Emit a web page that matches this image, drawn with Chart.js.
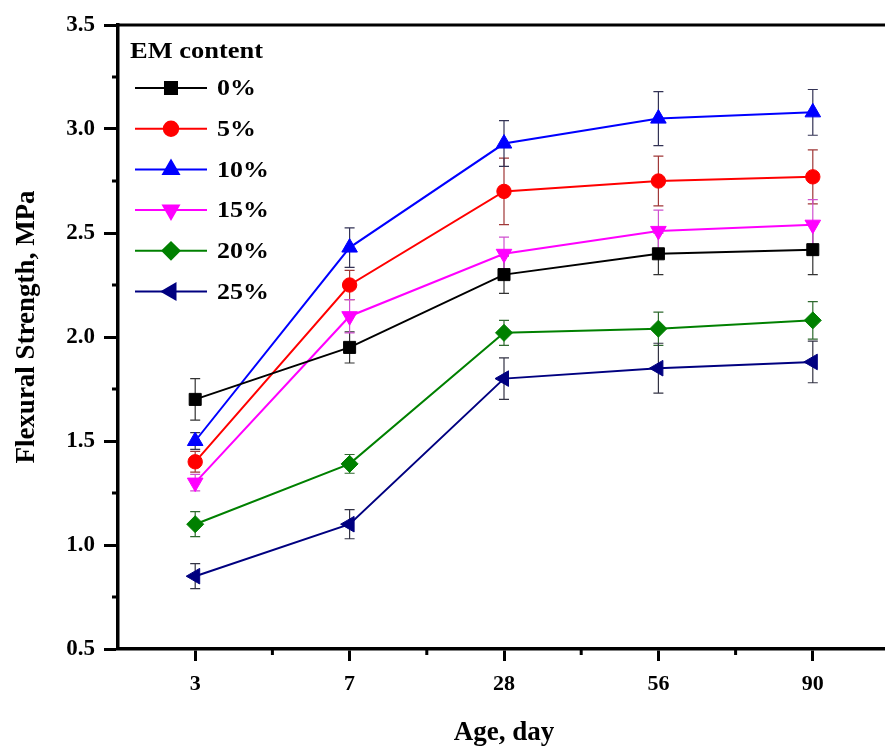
<!DOCTYPE html>
<html>
<head>
<meta charset="utf-8">
<script src="https://cdn.jsdelivr.net/npm/chart.js@4.4.1/dist/chart.umd.min.js"></script>
<style>
  html, body { margin: 0; padding: 0; background: #fff; overflow: hidden; }
  #wrap { width: 900px; height: 749px; position: relative; }
</style>
</head>
<body>
<div id="wrap"><canvas id="chart"></canvas></div>
<script>
// age in days (categories)
const AGES = ["3", "7", "28", "56", "90"];
const Y_TICKS = [0.5, 1.0, 1.5, 2.0, 2.5, 3.0, 3.5];

const LABELS = ["0%", "5%", "10%", "15%", "20%", "25%"];

// flexural strength, MPa
const EM0 = [1.70, 1.95, 2.30, 2.40, 2.42];
const EM5 = [1.40, 2.25, 2.70, 2.75, 2.77];
const EM10 = [1.50, 2.43, 2.93, 3.05, 3.08];
const EM15 = [1.30, 2.10, 2.40, 2.51, 2.54];
const EM20 = [1.10, 1.39, 2.02, 2.04, 2.08];
const EM25 = [0.85, 1.10, 1.80, 1.85, 1.88];

// error bars (+/-)
const ERR0 = [0.10, 0.075, 0.09, 0.10, 0.12];
const ERR5 = [0.05, 0.07, 0.16, 0.12, 0.13];
const ERR10 = [0.04, 0.095, 0.11, 0.13, 0.11];
const ERR15 = [0.04, 0.08, 0.08, 0.10, 0.12];
const ERR20 = [0.06, 0.045, 0.06, 0.08, 0.09];
const ERR25 = [0.06, 0.07, 0.10, 0.12, 0.10];

const FONT = "'Liberation Serif', 'Times New Roman', serif";

const STYLES = [
  { color: "#000000", err: "#333333", pointStyle: "rect", rotation: 0, radius: 8.5 },
  { color: "#ff0000", err: "#a03838", pointStyle: "circle", rotation: 0, radius: 7.2 },
  { color: "#0000ff", err: "#333355", pointStyle: "triangle", rotation: 0, radius: 9 },
  { color: "#ff00ff", err: "#d050d0", pointStyle: "triangle", rotation: 180, radius: 9 },
  { color: "#008000", err: "#2f6a2f", pointStyle: "rectRot", rotation: 0, radius: 8.5 },
  { color: "#000080", err: "#333344", pointStyle: "triangle", rotation: -90, radius: 9 },
];

const SERIES = [EM0, EM5, EM10, EM15, EM20, EM25];
const ERRORS = [ERR0, ERR5, ERR10, ERR15, ERR20, ERR25];

const datasets = SERIES.map((vals, i) => ({
  label: LABELS[i],
  data: vals,
  errors: ERRORS[i],
  errColor: STYLES[i].err,
  borderColor: STYLES[i].color,
  backgroundColor: STYLES[i].color,
  borderWidth: 2,
  pointStyle: STYLES[i].pointStyle,
  rotation: STYLES[i].rotation,
  pointRadius: STYLES[i].radius,
  pointHoverRadius: STYLES[i].radius,
  pointBorderWidth: 1,
  tension: 0,
}));

// error bars under the lines
const errorBars = {
  id: "errorBars",
  beforeDatasetsDraw(chart) {
    const ctx = chart.ctx;
    const y = chart.scales.y;
    ctx.save();
    ctx.lineWidth = 1.2;
    chart.data.datasets.forEach((ds, di) => {
      const meta = chart.getDatasetMeta(di);
      ctx.strokeStyle = ds.errColor;
      meta.data.forEach((pt, i) => {
        const v = ds.data[i], e = ds.errors[i];
        const top = y.getPixelForValue(v + e);
        const bot = y.getPixelForValue(v - e);
        ctx.beginPath();
        ctx.moveTo(pt.x, top); ctx.lineTo(pt.x, bot);
        ctx.moveTo(pt.x - 5, top); ctx.lineTo(pt.x + 5, top);
        ctx.moveTo(pt.x - 5, bot); ctx.lineTo(pt.x + 5, bot);
        ctx.stroke();
      });
    });
    ctx.restore();
  },
};

// wider-looking text, as in the source figure
function stretchedText(ctx, text, x, y, sx) {
  ctx.save();
  ctx.translate(x, y);
  ctx.scale(sx, 1);
  ctx.fillText(text, 0, 0);
  ctx.restore();
}

// minor ticks, top frame line, y title and the legend box
const decorations = {
  id: "decorations",
  afterDraw(chart) {
    const ctx = chart.ctx;
    const { left, right, top, bottom } = chart.chartArea;
    const xs = chart.scales.x, ys = chart.scales.y;
    ctx.save();
    ctx.strokeStyle = "#000";

    ctx.lineWidth = 3;
    ctx.beginPath();
    ctx.moveTo(left - 1.5, top); ctx.lineTo(right + 20, top);
    ctx.stroke();

    ctx.beginPath();
    for (let i = 0; i < Y_TICKS.length - 1; i++) {
      const py = ys.getPixelForValue((Y_TICKS[i] + Y_TICKS[i + 1]) / 2);
      ctx.moveTo(left - 6, py); ctx.lineTo(left, py);
    }
    for (let i = 1; i < AGES.length; i++) {
      const px = (xs.getPixelForValue(i - 1) + xs.getPixelForValue(i)) / 2;
      ctx.moveTo(px, bottom); ctx.lineTo(px, bottom + 6);
    }
    ctx.stroke();

    // y axis title
    ctx.fillStyle = "#000";
    ctx.save();
    ctx.translate(27, 327);
    ctx.rotate(-Math.PI / 2);
    ctx.textAlign = "center";
    ctx.textBaseline = "middle";
    ctx.font = "bold 27px " + FONT;
    ctx.fillText("Flexural Strength, MPa", 0, 0);
    ctx.restore();

    // legend
    ctx.textBaseline = "middle";
    ctx.textAlign = "left";
    ctx.font = "bold 23px " + FONT;
    stretchedText(ctx, "EM content", 130, 52, 1.15);
    ctx.font = "bold 24px " + FONT;
    chart.data.datasets.forEach((ds, i) => {
      const ly = 88 + i * 40.7;
      ctx.strokeStyle = ds.borderColor;
      ctx.lineWidth = 2;
      ctx.beginPath();
      ctx.moveTo(135, ly); ctx.lineTo(207, ly);
      ctx.stroke();
      ctx.fillStyle = ds.backgroundColor;
      Chart.helpers.drawPoint(ctx, {
        pointStyle: ds.pointStyle, rotation: ds.rotation,
        radius: ds.pointRadius, borderWidth: 1,
      }, 171, ly);
      ctx.fill();
      ctx.fillStyle = "#000";
      stretchedText(ctx, ds.label, 217, ly + 1, 1.08);
    });
    ctx.restore();
  },
};

new Chart(document.getElementById("chart"), {
  type: "line",
  data: { labels: AGES, datasets },
  options: {
    responsive: true,
    maintainAspectRatio: false,
    animation: false,
    layout: { padding: { top: 25, right: 7, left: 0, bottom: 0 } },
    plugins: { legend: { display: false }, tooltip: { enabled: false } },
    scales: {
      x: {
        type: "category",
        offset: true,
        afterFit: (s) => { s.height = 100; },
        border: { display: true, color: "#000", width: 3.5 },
        grid: { display: true, drawOnChartArea: false, offset: false, tickLength: 12, tickWidth: 3, tickColor: "#000" },
        ticks: { color: "#000", padding: 10, maxRotation: 0, font: { family: FONT, size: 22, weight: "bold" } },
        title: {
          display: true, text: "Age, day", color: "#000",
          padding: { top: 0, bottom: 0 },
          font: { family: FONT, size: 27, weight: "bold" },
        },
      },
      y: {
        min: 0.5,
        max: 3.5,
        afterFit: (s) => { s.width = 118; },
        border: { display: true, color: "#000", width: 3.5 },
        grid: { display: true, drawOnChartArea: false, tickLength: 14, tickWidth: 3, tickColor: "#000" },
        ticks: {
          stepSize: 0.5, color: "#000", padding: 9,
          font: { family: FONT, size: 23, weight: "bold" },
          callback: (v) => Number(v).toFixed(1),
        },
        title: { display: false },
      },
    },
  },
  plugins: [errorBars, decorations],
});
</script>
</body>
</html>
